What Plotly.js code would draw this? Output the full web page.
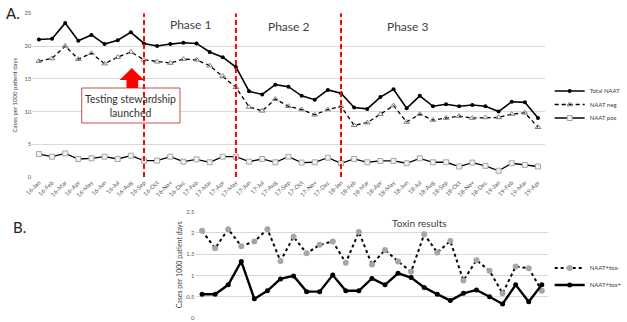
<!DOCTYPE html>
<html><head><meta charset="utf-8">
<script src="https://cdn.plot.ly/plotly-3.0.1.min.js"></script>
<style>html,body{margin:0;padding:0;background:#fff}#chart{width:627px;height:322px}</style>
</head><body><div id="chart"></div><script>
const months = ['16-Jan','16-Feb','16-Mar','16-Apr','16-May','16-Jun','16-Jul','16-Aug','16-Sep','16-Oct','16-Nov','16-Dec',
  '17-Feb','17-Mar','17-Apr','17-May','17-Jun','17-Jul','17-Aug','17-Sep','17-Oct','17-Nov','17-Dec',
  '18-Jan','18-Feb','18-Mar','18-Apr','18-May','18-Jun','18-Jul','18-Aug','18-Sep','18-Oct','18-Nov','18-Dec',
  '19-Jan','19-Feb','19-Mar','19-Apr'];
const totalNAAT = [21.0,21.1,23.5,20.8,21.7,20.3,20.9,22.1,20.4,20.0,20.3,20.5,
  20.4,19.1,18.3,16.8,13.1,12.6,14.1,13.8,12.4,11.8,13.3,
  12.8,10.6,10.4,12.2,13.4,10.5,12.4,10.8,11.1,10.8,11.0,10.8,
  10.0,11.5,11.4,9.0];
const naatNeg = [17.7,18.1,20.0,18.0,18.9,17.3,18.3,19.1,17.9,17.6,17.4,18.0,
  17.9,17.0,15.4,13.7,10.7,10.1,11.9,10.8,10.3,9.5,10.3,
  10.8,7.9,8.3,9.6,10.9,8.4,9.6,8.7,9.0,9.3,9.0,9.1,
  9.1,9.6,9.8,7.6];
const naatPos = [3.5,3.1,3.6,2.75,2.85,3.1,2.75,3.25,2.5,2.5,3.1,2.35,
  2.7,2.25,3.1,3.1,2.35,2.75,2.25,3.1,2.2,2.25,2.95,
  2.1,2.75,2.25,2.45,2.45,2.1,2.85,2.25,2.25,1.6,2.2,1.7,
  0.95,2.1,1.85,1.6];
const phaseStarts = ['16-Sep','17-May','18-Jan'];
const phaseLabels = ['Phase 1','Phase 2','Phase 3'];
const toxinIdx = Array.from({length:27},(_,i)=>i+1);
const toxNeg = [2.05,1.64,2.09,1.69,1.80,2.09,1.34,1.91,1.52,1.72,1.80,1.30,2.02,1.26,1.60,1.33,1.09,1.97,1.54,1.81,0.88,1.36,1.11,0.58,1.21,1.17,0.64];
const toxPos = [0.56,0.56,0.78,1.33,0.45,0.64,0.92,0.99,0.62,0.62,1.01,0.64,0.64,0.93,0.78,1.05,0.95,0.72,0.56,0.41,0.58,0.66,0.50,0.33,0.78,0.38,0.78];

const W=627,H=322;
const px=x=>x/W, py=y=>1-y/H;
const F='Lato, "Open Sans", sans-serif';

const traces = [
  {x:months,y:totalNAAT,name:'Total NAAT',type:'scatter',mode:'lines+markers',xaxis:'x',yaxis:'y',legend:'legend',
   line:{color:'#000',width:1.6},marker:{symbol:'circle',size:4,color:'#000'}},
  {x:months,y:naatNeg,name:'NAAT neg',type:'scatter',mode:'lines+markers',xaxis:'x',yaxis:'y',legend:'legend2',
   line:{color:'#000',width:1.3,dash:'4px,3px'},marker:{symbol:'triangle-up-open',size:5,color:'#7f7f7f',line:{width:1}}},
  {x:months,y:naatPos,name:'NAAT pos',type:'scatter',mode:'lines+markers',xaxis:'x',yaxis:'y',legend:'legend3',
   line:{color:'#000',width:1.3},marker:{symbol:'square',size:5,color:'#f2f2f2',line:{color:'#a6a6a6',width:1}}},
  {x:toxinIdx,y:toxNeg,name:'NAAT+tox-',type:'scatter',mode:'lines+markers',xaxis:'x2',yaxis:'y2',legend:'legend4',
   line:{color:'#000',width:2,dash:'dot'},marker:{symbol:'circle',size:6,color:'#a6a6a6'}},
  {x:toxinIdx,y:toxPos,name:'NAAT+tox+',type:'scatter',mode:'lines+markers',xaxis:'x2',yaxis:'y2',legend:'legend5',
   line:{color:'#000',width:2.4},marker:{symbol:'circle',size:5,color:'#000'}}
];

const shapes = [
  {type:'rect',xref:'paper',yref:'paper',x0:px(84),x1:px(185),y0:py(123),y1:py(88),
   line:{color:'#c0504d',width:1},fillcolor:'#fff',layer:'above'},
  {type:'path',xref:'paper',yref:'paper',fillcolor:'#ff0000',line:{width:0},layer:'above',
   path:`M${px(130)},${py(88)} L${px(142)},${py(88)} L${px(142)},${py(80)} L${px(148)},${py(80)} L${px(135.5)},${py(68)} L${px(123)},${py(80)} L${px(130)},${py(80)} Z`}
];
phaseStarts.forEach(m=>shapes.push({type:'line',xref:'x',yref:'y',x0:m,x1:m,y0:0,y1:25,
  line:{color:'#ff0000',width:2,dash:'5px,3px'},layer:'above'}));

const annotations = [
  {xref:'paper',yref:'paper',x:px(4),y:py(13),xanchor:'left',yanchor:'middle',text:'A.',showarrow:false,font:{family:F,size:15,color:'#222'}},
  {xref:'paper',yref:'paper',x:px(11),y:py(227),xanchor:'left',yanchor:'middle',text:'B.',showarrow:false,font:{family:F,size:15,color:'#222'}},
  {xref:'paper',yref:'paper',x:px(134.5),y:py(105.5),xanchor:'center',yanchor:'middle',text:'Testing stewardship<br>launched',showarrow:false,font:{family:F,size:10.5,color:'#333'}},
  {xref:'paper',yref:'paper',x:px(196),y:py(25),xanchor:'center',yanchor:'middle',text:phaseLabels[0],showarrow:false,font:{family:F,size:12,color:'#404040'}},
  {xref:'paper',yref:'paper',x:px(297),y:py(27),xanchor:'center',yanchor:'middle',text:phaseLabels[1],showarrow:false,font:{family:F,size:12,color:'#404040'}},
  {xref:'paper',yref:'paper',x:px(419),y:py(27),xanchor:'center',yanchor:'middle',text:phaseLabels[2],showarrow:false,font:{family:F,size:12,color:'#404040'}},
  {xref:'paper',yref:'paper',x:px(431),y:py(223),xanchor:'center',yanchor:'middle',text:'Toxin results',showarrow:false,font:{family:F,size:10,color:'#404040'}}
];

const tickFont={family:F,size:6,color:'#595959'};
const legFont={family:F,size:6,color:'#404040'};
const leg=(y)=>({x:px(565),y:py(y),xanchor:'left',yanchor:'middle',font:legFont,bgcolor:'rgba(0,0,0,0)',itemwidth:30});
const layout = {
  width:W,height:H,margin:{l:0,r:0,t:0,b:0},paper_bgcolor:'#fff',plot_bgcolor:'#fff',
  showlegend:true,
  xaxis:{type:'category',domain:[px(33.25),px(559.75)],anchor:'y',range:[-0.5,38.5],tickangle:-45,tickfont:tickFont,
    showgrid:false,zeroline:false,showline:false,ticks:''},
  yaxis:{domain:[py(177),py(13.3)],anchor:'x',range:[0,25],dtick:5,tickfont:tickFont,gridcolor:'#d9d9d9',gridwidth:1,
    zeroline:false,showline:false,ticks:'',
    title:{text:'Cases per 1000 patient days',font:{family:F,size:6,color:'#404040'},standoff:6}},
  xaxis2:{domain:[px(201),px(563.6)],anchor:'y2',range:[0.5,27.5],showticklabels:false,showgrid:false,zeroline:false,showline:false,ticks:''},
  yaxis2:{domain:[py(318),py(211.7)],anchor:'x2',range:[0,2.5],dtick:0.5,tickfont:tickFont,gridcolor:'#d9d9d9',gridwidth:1,
    zeroline:false,showline:false,ticks:'',
    title:{text:'Cases per 1000 patient days',font:{family:F,size:7,color:'#404040'},standoff:2}},
  legend:leg(91), legend2:leg(104.5), legend3:leg(118),
  legend4:leg(268), legend5:leg(285),
  shapes:shapes,annotations:annotations
};
Plotly.newPlot('chart',traces,layout,{displayModeBar:false,staticPlot:true});
</script></body></html>
